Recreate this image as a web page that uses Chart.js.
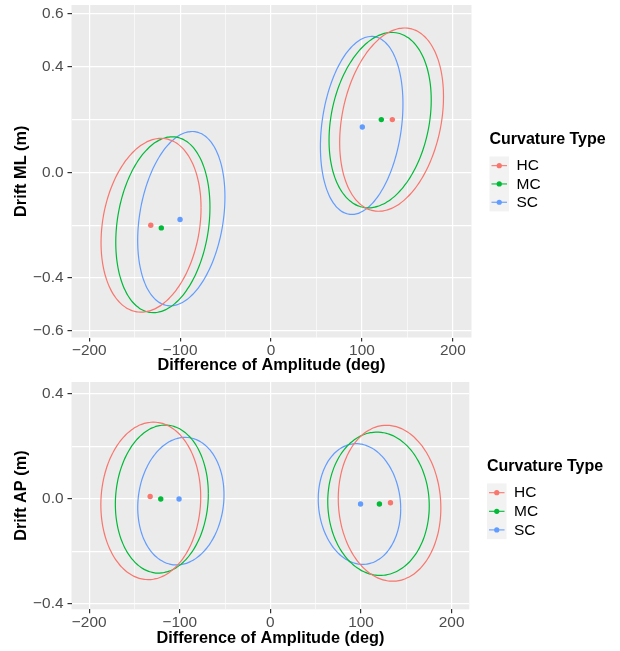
<!DOCTYPE html>
<html>
<head>
<meta charset="utf-8">
<script src="https://cdn.jsdelivr.net/npm/chart.js@4"></script>
<style>
  body { margin: 0; background: #fff; width: 620px; height: 651px; overflow: hidden; position: relative; }
  canvas { position: absolute; left: 0; }
</style>
</head>
<body>
<canvas id="ml" width="620" height="377" style="top:0"></canvas>
<canvas id="ap" width="620" height="274" style="top:377px"></canvas>
<script>
// groups
const groups = ["HC", "MC", "SC"];
const colors = ["#F8766D", "#00BA38", "#619CFF"];
const legendTitle = "Curvature Type";
const xTitle = "Difference of Amplitude (deg)";

// x axis (both panels)
const xGrid = [-200, -150, -100, -50, 0, 50, 100, 150, 200];
const xLabels = [-200, -100, 0, 100, 200];

// Drift ML panel -- left cluster then right cluster, group index per entry
const mlGroup = [0, 1, 2, 0, 1, 2];
const mlMeanX = [-132.3, -120.7, -100.1, 133.4, 121.3, 100.4];
const mlMeanY = [-0.200, -0.210, -0.178, 0.200, 0.200, 0.172];
const mlEllCX = [-132.0, -119.0, -98.7, 132.6, 120.0, 99.7];
const mlEllCY = [-0.200, -0.198, -0.175, 0.200, 0.198, 0.178];
const mlEllRX = [55.0, 51.8, 48.0, 57.1, 56.2, 45.4];
const mlEllRY = [0.329, 0.333, 0.330, 0.347, 0.332, 0.337];
const mlEllCor = [0.20, 0.20, 0.25, 0.25, 0.23, 0.24];
const mlYGrid = [-0.6, -0.4, -0.2, 0, 0.2, 0.4, 0.6];
const mlYLabels = [-0.6, -0.4, 0, 0.4, 0.6];

// Drift AP panel
const apGroup = [0, 1, 2, 0, 1, 2];
const apMeanX = [-132.7, -121.0, -100.8, 132.5, 120.3, 99.5];
const apMeanY = [0.010, 0.000, 0.000, -0.014, -0.019, -0.019];
const apEllCX = [-132.0, -119.8, -98.8, 131.5, 119.3, 98.3];
const apEllCY = [-0.007, 0.000, -0.008, -0.016, -0.018, -0.019];
const apEllRX = [55.1, 51.3, 47.6, 56.6, 56.0, 45.5];
const apEllRY = [0.300, 0.282, 0.243, 0.297, 0.273, 0.230];
const apEllCor = [0.05, 0.07, 0.10, -0.06, -0.03, -0.08];
const apYGrid = [-0.4, -0.2, 0, 0.2, 0.4];
const apYLabels = [-0.4, 0, 0.4];

Chart.defaults.font.family = '"Liberation Sans", Arial, sans-serif';
Chart.defaults.animation = false;

const minus = s => String(s).replace("-", "\u2212");

// outline of an ellipse given centre, half-ranges and correlation
function outline(cx, cy, rx, ry, r) {
  const pts = [];
  const s = Math.sqrt(1 - r * r);
  for (let i = 0; i <= 120; i++) {
    const t = i / 120 * 2 * Math.PI;
    pts.push({ x: cx + rx * Math.cos(t), y: cy + ry * (r * Math.cos(t) + s * Math.sin(t)) });
  }
  return pts;
}

const panelBg = {
  id: "panelBg",
  beforeDraw(chart) {
    const a = chart.chartArea, ctx = chart.ctx;
    ctx.save();
    ctx.fillStyle = "#EBEBEB";
    ctx.fillRect(a.left, a.top, a.right - a.left, a.bottom - a.top);
    ctx.restore();
  }
};

const ggLegend = {
  id: "ggLegend",
  afterDraw(chart, args, o) {
    const ctx = chart.ctx;
    ctx.save();
    ctx.textBaseline = "middle";
    ctx.fillStyle = "#000";
    ctx.font = 'bold 16px "Liberation Sans", Arial, sans-serif';
    ctx.fillText(legendTitle, o.x, o.titleY);
    ctx.fillStyle = "#F2F2F2";
    ctx.fillRect(o.x, o.keyTop, 19.5, o.keyH * groups.length);
    ctx.font = '15.5px "Liberation Sans", Arial, sans-serif';
    groups.forEach((g, i) => {
      const cy = o.keyTop + o.keyH * (i + 0.5);
      ctx.strokeStyle = colors[i];
      ctx.lineWidth = 1.1;
      ctx.beginPath();
      ctx.moveTo(o.x + 2, cy);
      ctx.lineTo(o.x + 17.5, cy);
      ctx.stroke();
      ctx.fillStyle = colors[i];
      ctx.beginPath();
      ctx.arc(o.x + 9.75, cy, 2.6, 0, 2 * Math.PI);
      ctx.fill();
      ctx.fillStyle = "#000";
      ctx.fillText(g, o.x + 27, cy + 0.5);
    });
    ctx.restore();
  }
};

function makeChart(id, p) {
  const datasets = [];
  p.group.forEach((g, i) => {
    datasets.push({
      type: "scatter",
      data: outline(p.cx[i], p.cy[i], p.rx[i], p.ry[i], p.cor[i]),
      showLine: true,
      borderColor: colors[g],
      borderWidth: 1.2,
      pointRadius: 0,
      fill: false,
      tension: 0.2
    });
  });
  p.group.forEach((g, i) => {
    datasets.push({
      type: "scatter",
      data: [{ x: p.mx[i], y: p.my[i] }],
      backgroundColor: colors[g],
      borderWidth: 0,
      pointRadius: 2.7
    });
  });

  return new Chart(document.getElementById(id), {
    type: "scatter",
    data: { datasets },
    plugins: [panelBg, ggLegend],
    options: {
      responsive: false,
      layout: { padding: { top: 5, right: p.right, left: 0, bottom: 0 } },
      plugins: {
        legend: { display: false },
        tooltip: { enabled: false },
        ggLegend: p.legend
      },
      scales: {
        x: {
          type: "linear",
          min: p.xMin, max: p.xMax,
          afterBuildTicks: s => { s.ticks = xGrid.map(v => ({ value: v })); },
          afterFit: s => { s.height = p.xH; s.paddingLeft = 0; s.paddingRight = 0; },
          border: { display: false },
          grid: {
            color: "#FFFFFF",
            lineWidth: c => xLabels.includes(c.tick.value) ? 1.2 : 0.6,
            tickLength: 4,
            tickColor: c => xLabels.includes(c.tick.value) ? "#333333" : "rgba(0,0,0,0)"
          },
          ticks: {
            color: "#4D4D4D",
            font: { size: 15.4 },
            padding: 0.5,
            maxRotation: 0,
            autoSkip: false,
            callback: v => xLabels.includes(v) ? minus(v) : ""
          },
          title: {
            display: true, text: xTitle, color: "#000",
            font: { size: 16.3, weight: "bold" },
            padding: { top: 0, bottom: p.xTitlePad }
          }
        },
        y: {
          type: "linear",
          min: p.yMin, max: p.yMax,
          afterBuildTicks: s => { s.ticks = p.yGrid.map(v => ({ value: v })); },
          afterFit: s => { s.width = 71.5; s.paddingTop = 0; s.paddingBottom = 0; },
          border: { display: false },
          grid: {
            color: "#FFFFFF",
            lineWidth: 1.2,
            tickLength: 4,
            tickColor: c => p.yLabels.includes(c.tick.value) ? "#333333" : "rgba(0,0,0,0)"
          },
          ticks: {
            color: "#4D4D4D",
            font: { size: 15.4 },
            padding: 4,
            autoSkip: false,
            callback: v => p.yLabels.includes(v) ? minus(v.toFixed(1)) : ""
          },
          title: {
            display: true, text: p.yTitle, color: "#000",
            font: { size: 16.3, weight: "bold" },
            padding: { top: 11.9, bottom: 0 }
          }
        }
      }
    }
  });
}

makeChart("ml", {
  group: mlGroup, mx: mlMeanX, my: mlMeanY,
  cx: mlEllCX, cy: mlEllCY, rx: mlEllRX, ry: mlEllRY, cor: mlEllCor,
  yGrid: mlYGrid, yLabels: mlYLabels, yTitle: "Drift ML (m)",
  xMin: -219.5, xMax: 220.5, yMin: -0.625, yMax: 0.634,
  right: 148.5, xH: 39.5, xTitlePad: 1.5,
  legend: { x: 489.5, titleY: 140, keyTop: 156.5, keyH: 18.3 }
});

makeChart("ap", {
  group: apGroup, mx: apMeanX, my: apMeanY,
  cx: apEllCX, cy: apEllCY, rx: apEllRX, ry: apEllRY, cor: apEllCor,
  yGrid: apYGrid, yLabels: apYLabels, yTitle: "Drift AP (m)",
  xMin: -219.5, xMax: 219.5, yMin: -0.42, yMax: 0.446,
  right: 150.7, xH: 41.7, xTitlePad: 3.2,
  legend: { x: 487, titleY: 90, keyTop: 106.4, keyH: 18.6 }
});
</script>
</body>
</html>
